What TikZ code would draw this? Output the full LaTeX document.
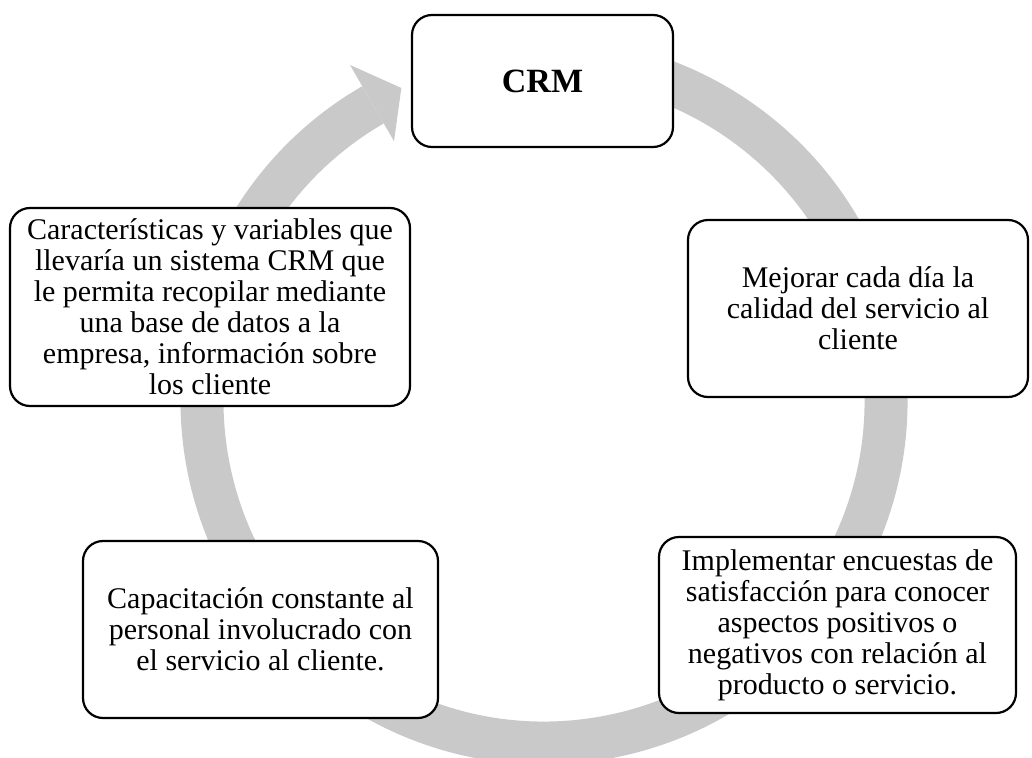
\documentclass[tikz,border=0pt]{standalone}
\usepackage{fontspec}
\setmainfont{Liberation Serif}
\definecolor{cycGray}{RGB}{201,201,201}
\definecolor{cycInk}{RGB}{0,0,0}

\begin{document}
\begin{tikzpicture}[x=.5pt,y=.5pt]
\tikzset{
stage/.style={rounded corners=10pt,draw=cycInk,fill=white,line width=1.1pt,
font=\fontsize{15}{15.5}\selectfont,align=center,inner sep=0pt},
ring/.style={draw=cycGray,line width=21.5pt}
}
\useasboundingbox (0,0) rectangle (1032,757);
\clip (0,0) rectangle (1032,757);
% grey cycle, clockwise from under the CRM box, head pointing at it
\draw[ring,shift={(544,356)}] (100:342) arc[start angle=100,end angle=-240,radius=342];
\fill[cycGray,shift={(544,356)}] (120:300) -- (114.5:344) -- (120:388) -- cycle;
% stages
\node[stage,minimum width=130.5pt,minimum height=66pt,font=\fontsize{17}{18}\selectfont\bfseries] (crm) at (542.5,676) {CRM};
\node[stage,minimum width=170pt,minimum height=88.5pt] (mejora) at (858,448.5) {Mejorar cada día la\\calidad del servicio al\\cliente};
\node[stage,minimum width=200pt,minimum height=99pt] (rasgos) at (210,450) {Características y variables que\\llevaría un sistema CRM que\\le permita recopilar mediante\\una base de datos a la\\empresa, información sobre\\los cliente};
\node[stage,minimum width=177.5pt,minimum height=88.5pt] (capacita) at (260.5,127.5) {Capacitación constante al\\personal involucrado con\\el servicio al cliente.};
\node[stage,minimum width=178.5pt,minimum height=88pt] (encuesta) at (837.5,132) {Implementar encuestas de\\satisfacción para conocer\\aspectos positivos o\\negativos con relación al\\producto o servicio.};
\end{tikzpicture}
\end{document}
